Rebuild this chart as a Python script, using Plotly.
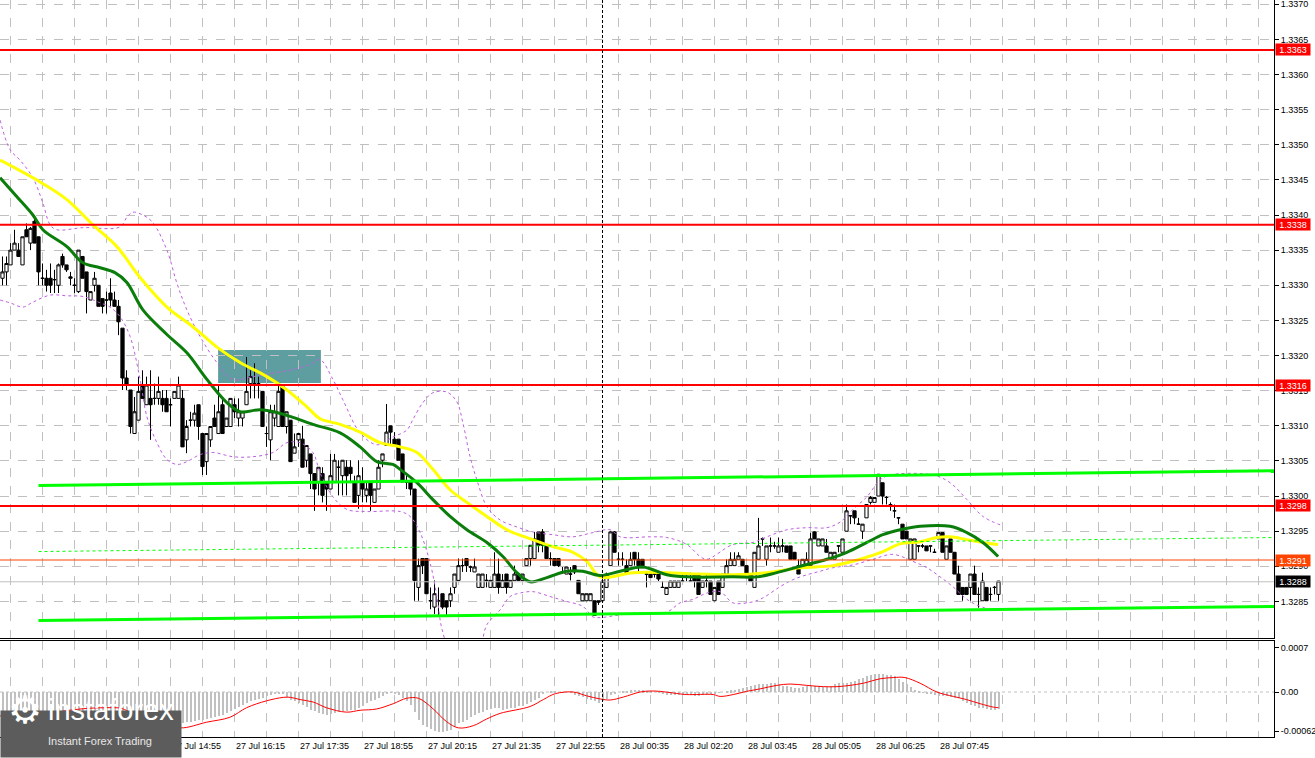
import plotly.graph_objects as go

# GBP/USD M5, one bar every 5 minutes, bar 0 is the leftmost visible bar
open_ = [
    1.33310, 1.33319, 1.33329, 1.33350, 1.33350, 1.33329, 1.33379, 1.33360, 1.33391, 1.33369,
    1.33310, 1.33310, 1.33310, 1.33308, 1.33300, 1.33341, 1.33329, 1.33312, 1.33300, 1.33291,
    1.33341, 1.33319, 1.33279, 1.33300, 1.33300, 1.33281, 1.33279, 1.33289, 1.33279, 1.33270,
    1.33239, 1.33168, 1.33151, 1.33089, 1.33108, 1.33158, 1.33130, 1.33139, 1.33139, 1.33139,
    1.33139, 1.33139, 1.33130, 1.33139, 1.33139, 1.33139, 1.33080, 1.33108, 1.33108, 1.33130,
    1.33089, 1.33049, 1.33080, 1.33111, 1.33089, 1.33130, 1.33099, 1.33099, 1.33130, 1.33111,
    1.33111, 1.33130, 1.33160, 1.33160, 1.33160, 1.33149, 1.33089, 1.33080, 1.33111, 1.33099,
    1.33158, 1.33099, 1.33108, 1.33061, 1.33080, 1.33081, 1.33051, 1.33060, 1.33032, 1.33020,
    1.33032, 1.33020, 1.33010, 1.33020, 1.33041, 1.33029, 1.33041, 1.33041, 1.33020, 1.33001,
    1.33020, 1.33001, 1.33020, 1.32991, 1.33010, 1.33051, 1.33072, 1.33100, 1.33081, 1.33081,
    1.33060, 1.33020, 1.33020, 1.33010, 1.32870, 1.32911, 1.32911, 1.32851, 1.32842, 1.32851,
    1.32861, 1.32851, 1.32851, 1.32870, 1.32880, 1.32901, 1.32911, 1.32899, 1.32892, 1.32870,
    1.32870, 1.32880, 1.32870, 1.32870, 1.32889, 1.32870, 1.32889, 1.32870, 1.32880, 1.32889,
    1.32880, 1.32901, 1.32911, 1.32911, 1.32949, 1.32949, 1.32930, 1.32911, 1.32911, 1.32911,
    1.32892, 1.32889, 1.32889, 1.32901, 1.32880, 1.32851, 1.32851, 1.32851, 1.32851, 1.32851,
    1.32851, 1.32870, 1.32901, 1.32949, 1.32910, 1.32910, 1.32901, 1.32901, 1.32920, 1.32910,
    1.32910, 1.32889, 1.32889, 1.32889, 1.32891, 1.32870, 1.32860, 1.32870, 1.32870, 1.32870,
    1.32879, 1.32889, 1.32879, 1.32889, 1.32889, 1.32870, 1.32879, 1.32879, 1.32851, 1.32879,
    1.32870, 1.32889, 1.32901, 1.32901, 1.32910, 1.32910, 1.32901, 1.32889, 1.32870, 1.32910,
    1.32939, 1.32910, 1.32929, 1.32929, 1.32920, 1.32929, 1.32929, 1.32929, 1.32920, 1.32901,
    1.32901, 1.32901, 1.32901, 1.32949, 1.32929, 1.32929, 1.32929, 1.32910, 1.32910, 1.32929,
    1.32920, 1.32950, 1.32972, 1.32979, 1.32960, 1.32950, 1.32969, 1.32991, 1.32991, 1.33000,
    1.33019, 1.32998, 1.32988, 1.32979, 1.32969, 1.32960, 1.32950, 1.32910, 1.32910, 1.32929,
    1.32929, 1.32929, 1.32929, 1.32920, 1.32939, 1.32948, 1.32910, 1.32939, 1.32920, 1.32889,
    1.32870, 1.32870, 1.32870, 1.32889, 1.32860, 1.32851, 1.32870, 1.32860, 1.32870, 1.32860,
]
high = [
    1.33341, 1.33341, 1.33360, 1.33379, 1.33360, 1.33369, 1.33388, 1.33383, 1.33400, 1.33369,
    1.33331, 1.33322, 1.33331, 1.33322, 1.33331, 1.33345, 1.33329, 1.33319, 1.33310, 1.33350,
    1.33341, 1.33319, 1.33291, 1.33319, 1.33300, 1.33281, 1.33291, 1.33310, 1.33291, 1.33279,
    1.33239, 1.33179, 1.33151, 1.33141, 1.33170, 1.33179, 1.33170, 1.33179, 1.33160, 1.33170,
    1.33151, 1.33151, 1.33139, 1.33149, 1.33170, 1.33151, 1.33108, 1.33120, 1.33130, 1.33130,
    1.33089, 1.33089, 1.33099, 1.33130, 1.33158, 1.33141, 1.33111, 1.33139, 1.33139, 1.33139,
    1.33120, 1.33198, 1.33179, 1.33189, 1.33170, 1.33149, 1.33099, 1.33130, 1.33130, 1.33160,
    1.33158, 1.33120, 1.33108, 1.33089, 1.33089, 1.33100, 1.33072, 1.33060, 1.33032, 1.33041,
    1.33041, 1.33020, 1.33060, 1.33060, 1.33051, 1.33051, 1.33051, 1.33051, 1.33029, 1.33051,
    1.33041, 1.33020, 1.33020, 1.33010, 1.33051, 1.33060, 1.33131, 1.33100, 1.33091, 1.33081,
    1.33060, 1.33029, 1.33020, 1.33010, 1.32911, 1.32911, 1.32911, 1.32870, 1.32880, 1.32870,
    1.32861, 1.32851, 1.32870, 1.32889, 1.32911, 1.32911, 1.32911, 1.32901, 1.32911, 1.32889,
    1.32889, 1.32889, 1.32880, 1.32920, 1.32911, 1.32889, 1.32889, 1.32880, 1.32901, 1.32889,
    1.32889, 1.32911, 1.32930, 1.32949, 1.32949, 1.32953, 1.32930, 1.32920, 1.32911, 1.32911,
    1.32899, 1.32899, 1.32899, 1.32901, 1.32880, 1.32861, 1.32861, 1.32861, 1.32851, 1.32851,
    1.32889, 1.32891, 1.32950, 1.32950, 1.32920, 1.32920, 1.32910, 1.32920, 1.32920, 1.32920,
    1.32910, 1.32891, 1.32889, 1.32891, 1.32891, 1.32879, 1.32870, 1.32879, 1.32879, 1.32879,
    1.32889, 1.32891, 1.32891, 1.32889, 1.32889, 1.32879, 1.32889, 1.32879, 1.32870, 1.32879,
    1.32889, 1.32910, 1.32920, 1.32920, 1.32920, 1.32910, 1.32901, 1.32889, 1.32920, 1.32969,
    1.32941, 1.32929, 1.32941, 1.32935, 1.32941, 1.32939, 1.32929, 1.32929, 1.32920, 1.32910,
    1.32910, 1.32920, 1.32948, 1.32950, 1.32939, 1.32939, 1.32939, 1.32920, 1.32920, 1.32929,
    1.32939, 1.32988, 1.32972, 1.32979, 1.32969, 1.32960, 1.32988, 1.33000, 1.32998, 1.33031,
    1.33019, 1.33000, 1.32991, 1.32988, 1.32969, 1.32960, 1.32950, 1.32939, 1.32939, 1.32929,
    1.32932, 1.32929, 1.32929, 1.32925, 1.32948, 1.32948, 1.32929, 1.32939, 1.32920, 1.32901,
    1.32870, 1.32870, 1.32889, 1.32901, 1.32870, 1.32891, 1.32870, 1.32870, 1.32872, 1.32879,
]
low = [
    1.33300, 1.33300, 1.33329, 1.33350, 1.33341, 1.33329, 1.33369, 1.33350, 1.33360, 1.33300,
    1.33300, 1.33291, 1.33289, 1.33289, 1.33289, 1.33325, 1.33319, 1.33300, 1.33289, 1.33289,
    1.33310, 1.33260, 1.33279, 1.33291, 1.33270, 1.33260, 1.33260, 1.33270, 1.33270, 1.33229,
    1.33151, 1.33151, 1.33089, 1.33089, 1.33108, 1.33139, 1.33130, 1.33080, 1.33130, 1.33130,
    1.33120, 1.33120, 1.33099, 1.33139, 1.33139, 1.33070, 1.33061, 1.33099, 1.33099, 1.33080,
    1.33030, 1.33030, 1.33070, 1.33099, 1.33089, 1.33089, 1.33099, 1.33099, 1.33111, 1.33099,
    1.33099, 1.33130, 1.33139, 1.33139, 1.33139, 1.33099, 1.33070, 1.33051, 1.33099, 1.33099,
    1.33099, 1.33089, 1.33049, 1.33061, 1.33070, 1.33041, 1.33041, 1.33010, 1.32979, 1.33001,
    1.32991, 1.32979, 1.33010, 1.33020, 1.33001, 1.33001, 1.33001, 1.33020, 1.32991, 1.32982,
    1.32991, 1.32991, 1.32979, 1.32991, 1.33010, 1.33041, 1.33072, 1.33072, 1.33072, 1.33051,
    1.33020, 1.33010, 1.33001, 1.32851, 1.32851, 1.32889, 1.32861, 1.32839, 1.32832, 1.32830,
    1.32839, 1.32830, 1.32842, 1.32861, 1.32880, 1.32892, 1.32892, 1.32892, 1.32892, 1.32870,
    1.32870, 1.32870, 1.32870, 1.32870, 1.32861, 1.32870, 1.32861, 1.32870, 1.32880, 1.32880,
    1.32880, 1.32901, 1.32901, 1.32911, 1.32920, 1.32920, 1.32911, 1.32901, 1.32901, 1.32899,
    1.32889, 1.32889, 1.32880, 1.32889, 1.32861, 1.32851, 1.32851, 1.32851, 1.32830, 1.32845,
    1.32851, 1.32870, 1.32901, 1.32920, 1.32901, 1.32901, 1.32891, 1.32901, 1.32901, 1.32891,
    1.32898, 1.32870, 1.32884, 1.32884, 1.32879, 1.32870, 1.32860, 1.32870, 1.32870, 1.32870,
    1.32879, 1.32879, 1.32879, 1.32870, 1.32860, 1.32870, 1.32870, 1.32860, 1.32851, 1.32860,
    1.32870, 1.32889, 1.32901, 1.32901, 1.32910, 1.32901, 1.32889, 1.32879, 1.32870, 1.32910,
    1.32929, 1.32901, 1.32920, 1.32925, 1.32920, 1.32920, 1.32920, 1.32910, 1.32910, 1.32889,
    1.32901, 1.32901, 1.32901, 1.32939, 1.32929, 1.32929, 1.32920, 1.32910, 1.32910, 1.32920,
    1.32920, 1.32950, 1.32960, 1.32960, 1.32960, 1.32939, 1.32969, 1.32988, 1.32991, 1.33000,
    1.32988, 1.32988, 1.32979, 1.32969, 1.32960, 1.32939, 1.32939, 1.32910, 1.32910, 1.32920,
    1.32926, 1.32922, 1.32920, 1.32920, 1.32939, 1.32920, 1.32910, 1.32920, 1.32889, 1.32860,
    1.32851, 1.32860, 1.32851, 1.32860, 1.32841, 1.32851, 1.32851, 1.32851, 1.32860, 1.32851,
]
close = [
    1.33319, 1.33331, 1.33350, 1.33360, 1.33341, 1.33369, 1.33369, 1.33381, 1.33360, 1.33319,
    1.33310, 1.33300, 1.33300, 1.33308, 1.33329, 1.33329, 1.33322, 1.33310, 1.33300, 1.33350,
    1.33310, 1.33291, 1.33291, 1.33310, 1.33270, 1.33270, 1.33279, 1.33279, 1.33270, 1.33248,
    1.33168, 1.33158, 1.33099, 1.33120, 1.33149, 1.33139, 1.33158, 1.33130, 1.33139, 1.33149,
    1.33130, 1.33120, 1.33130, 1.33149, 1.33158, 1.33070, 1.33099, 1.33108, 1.33118, 1.33099,
    1.33042, 1.33089, 1.33099, 1.33099, 1.33120, 1.33089, 1.33111, 1.33139, 1.33120, 1.33120,
    1.33120, 1.33149, 1.33170, 1.33160, 1.33160, 1.33099, 1.33089, 1.33120, 1.33120, 1.33149,
    1.33099, 1.33120, 1.33049, 1.33070, 1.33089, 1.33041, 1.33072, 1.33032, 1.33010, 1.33041,
    1.33001, 1.33010, 1.33029, 1.33051, 1.33041, 1.33051, 1.33029, 1.33032, 1.32991, 1.33029,
    1.33010, 1.33010, 1.33001, 1.33010, 1.33041, 1.33060, 1.33091, 1.33091, 1.33072, 1.33051,
    1.33020, 1.33020, 1.33010, 1.32880, 1.32901, 1.32901, 1.32861, 1.32851, 1.32861, 1.32851,
    1.32842, 1.32842, 1.32861, 1.32889, 1.32901, 1.32901, 1.32901, 1.32899, 1.32899, 1.32889,
    1.32889, 1.32880, 1.32880, 1.32889, 1.32870, 1.32880, 1.32870, 1.32880, 1.32889, 1.32880,
    1.32889, 1.32911, 1.32930, 1.32939, 1.32930, 1.32930, 1.32911, 1.32911, 1.32901, 1.32901,
    1.32892, 1.32899, 1.32889, 1.32892, 1.32861, 1.32861, 1.32861, 1.32861, 1.32830, 1.32849,
    1.32879, 1.32889, 1.32949, 1.32920, 1.32910, 1.32910, 1.32891, 1.32910, 1.32910, 1.32901,
    1.32898, 1.32889, 1.32884, 1.32889, 1.32882, 1.32870, 1.32870, 1.32879, 1.32879, 1.32879,
    1.32879, 1.32889, 1.32879, 1.32879, 1.32860, 1.32879, 1.32879, 1.32860, 1.32870, 1.32860,
    1.32889, 1.32901, 1.32910, 1.32910, 1.32915, 1.32901, 1.32889, 1.32879, 1.32920, 1.32929,
    1.32939, 1.32929, 1.32929, 1.32929, 1.32929, 1.32929, 1.32920, 1.32910, 1.32910, 1.32889,
    1.32910, 1.32910, 1.32939, 1.32939, 1.32939, 1.32939, 1.32920, 1.32920, 1.32920, 1.32929,
    1.32939, 1.32979, 1.32972, 1.32969, 1.32960, 1.32960, 1.32988, 1.32998, 1.32998, 1.33031,
    1.33000, 1.32998, 1.32988, 1.32979, 1.32969, 1.32939, 1.32939, 1.32939, 1.32939, 1.32929,
    1.32929, 1.32922, 1.32929, 1.32920, 1.32948, 1.32920, 1.32929, 1.32920, 1.32889, 1.32860,
    1.32860, 1.32860, 1.32889, 1.32860, 1.32860, 1.32879, 1.32851, 1.32860, 1.32870, 1.32879,
]
bars = list(range(len(close)))

# moving averages and bollinger bands (bar, price)
ma_green_bar = [-0.6, 3.6, 7.6, 10.1, 16.1, 20.1, 24.4, 28.1, 31.1, 35.1, 41.1, 46.1, 51.1, 56.1,
                59.4, 64.4, 68.6, 72.6, 77.6, 84.4, 89.4, 93.6, 97.6, 99.4, 103.6, 107.6, 111.9,
                116.1, 121.1, 125.1, 128.6, 131.9, 136.1, 141.1, 145.1, 149.4, 154.4, 160.1, 166.1,
                171.1, 182.6, 188.6, 193.6, 199.4, 206.1, 211.1, 216.1, 220.1, 224.4, 229.4, 236.9,
                241.1, 245.1, 248.9]
ma_green = [1.33453, 1.33426, 1.33400, 1.33379, 1.33355, 1.33332, 1.33325, 1.33318, 1.33304,
            1.33265, 1.33230, 1.33204, 1.33166, 1.33133, 1.33120, 1.33123, 1.33119, 1.33112,
            1.33102, 1.33090, 1.33070, 1.33049, 1.33045, 1.33038, 1.33019, 1.32995, 1.32971,
            1.32952, 1.32934, 1.32914, 1.32891, 1.32878, 1.32884, 1.32893, 1.32893, 1.32887,
            1.32893, 1.32899, 1.32888, 1.32885, 1.32885, 1.32885, 1.32891, 1.32900, 1.32910,
            1.32920, 1.32934, 1.32945, 1.32952, 1.32957, 1.32957, 1.32948, 1.32934, 1.32914]

ma_yellow_bar = [-0.6, 9.4, 16.1, 22.6, 28.6, 34.4, 41.1, 47.6, 53.6, 59.4, 66.1, 71.1, 76.1, 79.4,
                 84.4, 89.4, 94.4, 99.4, 103.6, 107.6, 111.9, 116.1, 121.1, 126.1, 132.6, 137.6,
                 142.6, 146.1, 149.4, 157.6, 166.1, 174.4, 182.6, 191.1, 199.4, 207.6, 214.4, 220.1,
                 224.4, 229.4, 233.6, 236.9, 241.1, 245.1, 248.9]
ma_yellow = [1.33478, 1.33447, 1.33422, 1.33386, 1.33355, 1.33311, 1.33269, 1.33241, 1.33212,
             1.33190, 1.33170, 1.33151, 1.33127, 1.33110, 1.33102, 1.33091, 1.33076, 1.33070,
             1.33062, 1.33038, 1.33009, 1.32991, 1.32971, 1.32952, 1.32938, 1.32928, 1.32920,
             1.32907, 1.32885, 1.32891, 1.32891, 1.32889, 1.32888, 1.32891, 1.32898, 1.32901,
             1.32910, 1.32921, 1.32932, 1.32935, 1.32941, 1.32942, 1.32938, 1.32934, 1.32931]

bb_up_bar = [-0.6, 1.9, 4.4, 7.6, 10.1, 11.9, 13.6, 20.1, 29.4, 31.1, 32.6, 35.1, 37.6, 41.1, 43.6,
             46.1, 49.4, 53.6, 57.6, 62.6, 67.6, 72.6, 76.9, 79.4, 82.6, 85.1, 89.4, 93.6, 97.6,
             101.1, 102.6, 105.1, 107.6, 111.1, 113.6, 115.1, 116.9, 118.6, 121.1, 124.4, 128.6,
             132.6, 137.6, 142.6, 147.6, 151.9, 154.4, 161.9, 166.1, 171.1, 174.4, 176.1, 182.6,
             187.6, 191.1, 196.1, 201.1, 206.1, 209.4, 212.6, 216.1, 219.4, 221.9, 232.6, 236.9,
             241.1, 245.1, 249.4]
bb_up = [1.33535, 1.33493, 1.33478, 1.33453, 1.33417, 1.33386, 1.33379, 1.33382, 1.33383, 1.33397,
         1.33404, 1.33400, 1.33389, 1.33350, 1.33303, 1.33265, 1.33227, 1.33190, 1.33166, 1.33170,
         1.33175, 1.33180, 1.33187, 1.33194, 1.33166, 1.33137, 1.33090, 1.33073, 1.33084, 1.33094,
         1.33109, 1.33133, 1.33147, 1.33148, 1.33134, 1.33104, 1.33056, 1.33023, 1.32985, 1.32966,
         1.32956, 1.32949, 1.32945, 1.32942, 1.32948, 1.32952, 1.32942, 1.32942, 1.32941, 1.32931,
         1.32914, 1.32910, 1.32931, 1.32934, 1.32942, 1.32952, 1.32955, 1.32955, 1.32963, 1.32981,
         1.32999, 1.33023, 1.33030, 1.33030, 1.33019, 1.32995, 1.32971, 1.32959]

bb_lo_bar = [-0.6, 1.9, 5.1, 7.6, 11.9, 16.1, 20.1, 24.4, 26.9, 29.4, 31.9, 34.4, 36.1, 38.6, 41.1,
             43.6, 46.1, 49.4, 52.6, 57.6, 62.6, 67.6, 71.1, 74.4, 77.6, 79.4, 82.6, 86.1, 91.1,
             99.4, 101.9, 104.4, 106.9, 108.6, 109.9, 111.9, 115.6, 119.4, 121.1, 124.4, 126.9,
             129.4, 132.6, 136.9, 141.1, 145.1, 147.6, 149.4, 154.4, 159.4, 166.1, 169.4, 172.6,
             176.1, 179.4, 182.6, 186.1, 189.4, 194.4, 197.6, 201.1, 204.4, 207.6, 212.6, 217.6,
             222.6, 227.6, 231.1, 234.4, 237.6, 241.1, 244.4, 247.6, 249.4]
bb_lo = [1.33279, 1.33275, 1.33269, 1.33276, 1.33286, 1.33285, 1.33284, 1.33275, 1.33269, 1.33255,
         1.33227, 1.33166, 1.33113, 1.33076, 1.33052, 1.33045, 1.33049, 1.33059, 1.33062, 1.33056,
         1.33056, 1.33062, 1.33076, 1.33076, 1.33062, 1.33033, 1.32999, 1.32981, 1.32978, 1.32978,
         1.32971, 1.32948, 1.32905, 1.32857, 1.32810, 1.32781, 1.32774, 1.32789, 1.32817, 1.32838,
         1.32857, 1.32862, 1.32864, 1.32857, 1.32850, 1.32843, 1.32828, 1.32827, 1.32831, 1.32834,
         1.32835, 1.32848, 1.32853, 1.32862, 1.32864, 1.32848, 1.32848, 1.32853, 1.32871, 1.32881,
         1.32888, 1.32893, 1.32898, 1.32902, 1.32910, 1.32917, 1.32907, 1.32898, 1.32885, 1.32871,
         1.32853, 1.32843, 1.32838, 1.32838]

# hand drawn objects
level_prices = [1.33635, 1.33386, 1.33158, 1.32986]
level_labels = ["1.3363", "1.3338", "1.3316", "1.3298"]
target_price, target_label = 1.32909, "1.3291"
bid_price, bid_label = 1.32878, "1.3288"
trend_bars = [9, 318]
trend_upper = [1.33015, 1.33036]
trend_lower = [1.32823, 1.32843]
trend_dashed = [1.32921, 1.32941]
zone_bars = [53.9, 79.6]
zone_prices = [1.33161, 1.33208]
day_break_bar = 150

# MACD main (histogram) in points (1e-5) and signal line
macd_pts = [
    -36, -36, -37, -37, -37, -38, -38, -38, -38, -39, -39, -39, -39, -40, -40, -40, -40, -40, -40, -40,
    -40, -40, -40, -41, -41, -41, -42, -42, -43, -44, -47, -52, -57, -61, -63, -64, -65, -65, -64, -62,
    -60, -57, -55, -53, -50, -49, -48, -47, -46, -45, -44, -43, -42, -40, -38, -36, -33, -30, -27, -24,
    -21, -18, -15, -13, -11, -9, -7, -5, -3, -2, -3, -8, -12, -15, -18, -20, -24, -28, -30, -33,
    -35, -36, -35, -33, -32, -30, -30, -29, -28, -25, -22, -18, -15, -12, -9, -6, -3, -1, -2, -4,
    -9, -14, -20, -32, -45, -52, -56, -59, -62, -63, -63, -62, -60, -55, -50, -47, -44, -40, -37, -34,
    -31, -29, -27, -26, -26, -28, -27, -26, -25, -23, -22, -19, -16, -12, -9, -2, 0, 1, 1, 0,
    -1, 0, -1, -4, -6, -8, -11, -13, -15, -17, -14, -11, -5, -2, 0, 1, 2, 3, 4, 4,
    3, 2, 1, 0, -1, -3, -4, -4, -4, -5, -5, -4, -5, -6, -6, -5, -5, -3, -2, -1,
    0, 2, 3, 4, 5, 6, 8, 10, 11, 12, 13, 13, 14, 14, 13, 10, 9, 8, 7, 6,
    8, 9, 9, 9, 9, 8, 8, 10, 13, 14, 15, 15, 16, 18, 20, 23, 25, 27, 28, 28,
    28, 27, 27, 26, 20, 16, 12, 8, 4, 1, -1, -2, -3, -4, -6, -7, -7, -8, -9, -10,
    -15, -18, -20, -23, -25, -26, -27, -28, -28, -27,
]
signal_bar = [-0.6, 10, 14.4, 18, 22.7, 29.4, 30.2, 31.9, 38, 44.4, 51, 56.9, 61, 66, 70.2, 72,
              74.4, 77.7, 81, 86, 89.4, 93.5, 97.7, 101, 104, 107.7, 111, 114, 117.7, 121, 124.4,
              131.9, 135.2, 138.2, 142.7, 146, 149.4, 151.9, 155.2, 159.4, 161.9, 164.4, 167.7,
              171, 177.7, 179.4, 182.7, 186, 189.4, 193.6, 196.9, 201, 205.2, 208.6, 211.9, 215.2,
              219.4, 222.7, 225.6, 229.4, 233.6, 237.7, 241, 244.4, 247.7, 249]
signal_pts = [-38, -35, -31, -28, -25.5, -25.5, -27, -32, -45, -57, -48, -40, -25, -14, -8.5, -8.5,
              -12, -16, -25, -32, -29, -27, -18.5, -10, -10, -27, -47, -57, -53.5, -43, -34,
              -23, -12, -2.6, 0, -6, -11, -12.7, -8, 0, 1.6, 1, -1.6,
              -4, -4, -7, -4, 1, 5, 10.6, 12.7, 10.6, 8.5, 8.5, 10.6, 14,
              21, 23, 23, 14, 0, -7, -12, -18.5, -24, -25]

# the two earliest time labels sit completely under the logo, so only the rest are written
tick_bars = [42, 58, 74, 90, 106, 122, 138, 154, 170, 186, 202, 218, 234]
tick_text = ["27 Jul 14:55", "27 Jul 16:15", "27 Jul 17:35",
             "27 Jul 18:55", "27 Jul 20:15", "27 Jul 21:35", "27 Jul 22:55", "28 Jul 00:35",
             "28 Jul 02:20", "28 Jul 03:45", "28 Jul 05:05", "28 Jul 06:25", "28 Jul 07:45"]
grid_bars = list(range(2, 318, 8))
price_ticks = [round(1.3285 + 0.0005 * k, 4) for k in range(18)]

W, H = 1315, 758
FONT = "Liberation Sans, Arial, sans-serif"
GRID = "#c0c0c0"

fig = go.Figure()

fig.add_trace(go.Candlestick(
    x=bars, open=open_, high=high, low=low, close=close,
    increasing=dict(line=dict(color="black", width=1), fillcolor="white"),
    decreasing=dict(line=dict(color="black", width=1), fillcolor="black"),
    whiskerwidth=0, hoverinfo="skip", showlegend=False,
))

for bx, by in [(bb_up_bar, bb_up), (bb_lo_bar, bb_lo)]:
    fig.add_trace(go.Scatter(x=bx, y=by, mode="lines", line=dict(color="#bf5fe0", width=1, dash="3px,3px", shape="spline"),
                             hoverinfo="skip", showlegend=False))
fig.add_trace(go.Scatter(x=ma_yellow_bar, y=ma_yellow, mode="lines",
                         line=dict(color="#ffff00", width=3, shape="spline"), hoverinfo="skip", showlegend=False))
fig.add_trace(go.Scatter(x=ma_green_bar, y=ma_green, mode="lines",
                         line=dict(color="#0a7d0a", width=3, shape="spline"), hoverinfo="skip", showlegend=False))

# channel lines
for ty, dash, w in [(trend_upper, "solid", 3), (trend_lower, "solid", 3), (trend_dashed, "3px,3px", 1)]:
    fig.add_trace(go.Scatter(x=trend_bars, y=ty, mode="lines", line=dict(color="#00ff00", width=w, dash=dash),
                             hoverinfo="skip", showlegend=False))

# MACD panel
fig.add_trace(go.Bar(x=bars, y=[v * 1e-5 for v in macd_pts], marker=dict(color="#c0c0c0", line=dict(width=0)),
                     width=0.5, xaxis="x2", yaxis="y2", hoverinfo="skip", showlegend=False))
fig.add_trace(go.Scatter(x=signal_bar, y=[v * 1e-5 for v in signal_pts], mode="lines",
                         line=dict(color="#ff0000", width=1, shape="spline"),
                         xaxis="x2", yaxis="y2", hoverinfo="skip", showlegend=False))

shapes = []
# buy/sell zone rectangle
shapes.append(dict(type="rect", xref="x", yref="y", x0=zone_bars[0], x1=zone_bars[1],
                   y0=zone_prices[0], y1=zone_prices[1], fillcolor="#5f9ea0", line=dict(width=0), layer="below"))
for p in level_prices:
    shapes.append(dict(type="line", xref="x domain", yref="y", x0=0, x1=1, y0=p, y1=p,
                       line=dict(color="#ff0000", width=2), layer="above"))
shapes.append(dict(type="line", xref="x domain", yref="y", x0=0, x1=1, y0=target_price, y1=target_price,
                   line=dict(color="#ff4500", width=1), layer="above"))
shapes.append(dict(type="line", xref="x domain", yref="y", x0=0, x1=1, y0=bid_price, y1=bid_price,
                   line=dict(color="#c0c0c0", width=1), layer="above"))
# day separator through both panels
for yr in ["y domain", "y2 domain"]:
    shapes.append(dict(type="line", xref="x", yref=yr, x0=day_break_bar, x1=day_break_bar, y0=0, y1=1,
                       line=dict(color="black", width=1, dash="3px,2px"), layer="above"))
# MACD zero level
shapes.append(dict(type="line", xref="x2 domain", yref="y2", x0=0, x1=1, y0=0, y1=0,
                   line=dict(color=GRID, width=1, dash="3px,3px"), layer="below"))

annotations = []
x_axis_end = 1274 / W
label_boxes = list(zip(level_prices, level_labels, ["#ff0000"] * len(level_prices)))
label_boxes += [(target_price, target_label, "#ff4500"), (bid_price, bid_label, "#000000")]
for p, t, c in label_boxes:
    annotations.append(dict(x=x_axis_end, y=p, xref="paper", yref="y", text=t, showarrow=False,
                            xanchor="left", xshift=1, font=dict(family=FONT, size=9, color="white"),
                            bgcolor=c, width=34, height=11, borderpad=0, align="center"))
# time labels, left aligned on their grid line like the terminal does
for b, t in zip(tick_bars, tick_text):
    annotations.append(dict(x=b, y=1 - 737 / H, xref="x2", yref="paper", text=t, showarrow=False,
                            xanchor="left", yanchor="top", yshift=-2, xshift=-1,
                            font=dict(family=FONT, size=9, color="black")))
# instaforex logo block (drawn last so it sits on top)
annotations.append(dict(x=0, y=0, xref="paper", yref="paper", text=" ", showarrow=False,
                        xanchor="left", yanchor="bottom", width=180, height=46, bgcolor="#5c5c5c", borderpad=0))
annotations.append(dict(x=6 / W, y=1 - 734 / H, xref="paper", yref="paper", text="⚙", showarrow=False,
                        xanchor="left", font=dict(family="DejaVu Sans", size=38, color="white")))
annotations.append(dict(x=46 / W, y=1 - 728 / H, xref="paper", yref="paper", text="instaforex", showarrow=False,
                        xanchor="left", font=dict(family="Liberation Sans", size=29, color="white")))
annotations.append(dict(x=46 / W, y=1 - 749 / H, xref="paper", yref="paper", text="Instant Forex Trading",
                        showarrow=False, xanchor="left",
                        font=dict(family="Liberation Sans", size=11, color="#e8e8e8")))

xr = [-0.625, (1274 - 2.5) / 4]
fig.update_layout(
    width=W, height=H, margin=dict(l=0, r=0, t=0, b=0),
    paper_bgcolor="white", plot_bgcolor="white",
    showlegend=False, boxgap=0.15, boxgroupgap=0.05, bargap=0,
    font=dict(family=FONT, size=9, color="black"),
    xaxis=dict(domain=[0, x_axis_end], range=xr, anchor="y", rangeslider=dict(visible=False),
               tickmode="array", tickvals=grid_bars, showticklabels=False, ticks="",
               showgrid=True, gridcolor=GRID, griddash="dash", gridwidth=1,
               showline=True, linecolor="black", linewidth=1, zeroline=False),
    yaxis=dict(domain=[1 - 638 / H, 1], range=[1.32798, 1.33706], side="right", anchor="x",
               tickmode="array", tickvals=price_ticks, ticktext=[f"{v:.4f}" for v in price_ticks],
               ticks="outside", ticklen=4, tickcolor="black", ticklabeloverflow="allow",
               showgrid=True, gridcolor=GRID, griddash="dash", gridwidth=1,
               showline=True, linecolor="black", linewidth=1, zeroline=False,
               tickfont=dict(family=FONT, size=9, color="black")),
    xaxis2=dict(domain=[0, x_axis_end], range=xr, anchor="y2", matches="x",
                tickmode="array", tickvals=grid_bars, showticklabels=False, ticks="",
                showgrid=True, gridcolor=GRID, griddash="dash", gridwidth=1,
                showline=True, mirror=True, linecolor="black", linewidth=1, zeroline=False),
    yaxis2=dict(domain=[1 - 737 / H, 1 - 641 / H], range=[-0.000715, 0.000811], side="right", anchor="x2",
                tickmode="array", tickvals=[0.0007, 0, -0.00062], ticktext=["0.0007", "0.00", "-0.00062"],
                ticks="outside", ticklen=4, tickcolor="black", showgrid=False, ticklabeloverflow="allow",
                showline=True, linecolor="black", linewidth=1, zeroline=False,
                tickfont=dict(family=FONT, size=9, color="black")),
    shapes=shapes, annotations=annotations,
)

# the page body has a default 8px margin; drop it so the chart sits at the window corner
fig.write_html("out.html", config={"displayModeBar": False},
               post_script="document.body.style.margin='0';")
